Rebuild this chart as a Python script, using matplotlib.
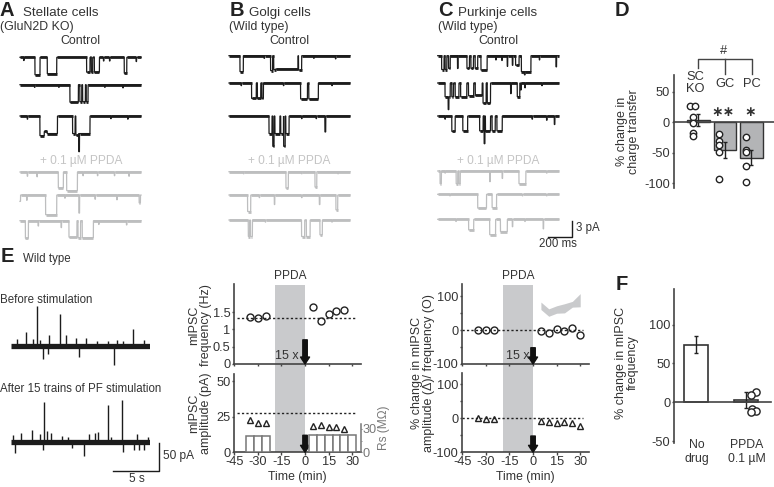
import numpy as np
import matplotlib
matplotlib.use("Agg")
import matplotlib.pyplot as plt

plt.rcParams['font.family'] = ['Liberation Sans', 'DejaVu Sans']
plt.rcParams['axes.unicode_minus'] = False
W, H = 774, 487
DARK = '#1c1c1c'; GRAY = '#bdbebf'; TXT = '#333333'; AX = '#444444'; BAND = '#c9cacc'; BAR = '#b3b4b6'

# ---- single channel traces: (start ms, end ms, depth pA)
A_ctrl = [
 [(124,165,3.3),(226,303,3.1),(551,578,2.8),(590,600,2.8),(615,656,2.8),(862,882,3.0),(30,34,.6),(690,693,.7),(740,743,.7),(960,963,.8)],
 [(413,482,3.3),(495,510,3.2),(518,540,3.2),(548,562,3.2),(120,123,.5),(320,323,.5),(700,703,.5),(850,853,.6)],
 [(165,200,3.7),(200,225,2.9),(225,309,3.3),(435,455,3.3),(462,484,3.6),(484,578,3.3),(486,491,6.7),(60,63,.6),(750,753,.5),(890,893,.6)],
]
A_drug = [
 [(317,358,3.0),(386,474,3.5),(60,63,.8),(140,143,.9),(520,523,.7),(640,643,.7),(780,783,.7),(900,903,.8)],
 [(0,4,1.2),(55,58,1.0),(212,303,3.7),(487,492,3.4),(370,373,.6),(620,623,.8),(800,803,.9),(985,995,1.5)],
 [(45,69,3.3),(150,153,1.0),(340,343,1.3),(405,470,3.1),(480,500,3.2),(515,606,3.2),(650,653,.7),(880,883,.8)],
]
B_ctrl = [
 [(91,118,3.0),(344,360,2.8),(370,385,2.6),(385,570,2.5),(575,600,2.7),(290,293,.5),(700,703,.5),(880,883,.6)],
 [(187,225,2.9),(235,262,2.9),(272,284,2.9),(592,648,3.0),(660,738,3.0),(100,103,.5),(450,453,.5),(850,853,.5)],
 [(331,355,3.3),(362,372,5.7),(380,420,3.3),(428,450,3.3),(452,464,5.7),(470,496,3.3),(793,799,3.0),(600,603,.5),(720,723,.5)],
]
B_drug = [
 [(471,490,3.1),(711,725,2.9),(120,123,.4),(600,603,.4),(900,903,.4)],
 [(154,179,3.1),(375,378,1.8),(747,751,1.8),(884,898,2.8),(250,253,.5),(600,603,.5)],
 [(160,170,3.1),(178,193,3.1),(600,625,3.1),(640,670,3.1),(752,771,2.8),(300,303,.4),(850,853,.4)],
]
C_ctrl = [
 [(33,52,2.6),(62,75,2.6),(90,103,2.4),(164,168,2.4),(242,262,2.4),(275,295,2.4),(310,330,2.4),(358,408,2.7),(575,578,2.0),(617,621,1.8),(644,672,1.8),(692,770,3.0),(717,722,3.6),(978,982,2.1),(480,483,.8),(530,533,.9),(840,843,.8)],
 [(61,103,2.6),(87,92,5.0),(117,130,2.6),(145,175,2.6),(190,240,2.6),(255,297,2.4),(311,367,2.3),(375,400,3.8),(410,436,3.8),(603,607,2.0),(658,678,2.6),(686,690,1.3),(720,724,.9),(860,864,.5)],
 [(117,144,2.9),(208,247,2.8),(347,375,2.8),(384,390,5.2),(395,436,2.8),(450,475,2.8),(490,533,2.8),(60,63,.6),(780,783,.6),(964,968,1.6),(900,903,.8)],
]
C_drug = [
 [(20,30,2.4),(153,165,2.4),(175,186,2.4),(430,434,2.0),(533,536,1.4),(672,728,2.4),(60,63,.4),(900,903,.4)],
 [(331,403,2.6),(450,486,2.5),(100,103,.3),(700,703,.3),(900,903,.3)],
 [(256,297,2.0),(430,478,2.9),(519,575,2.3),(617,620,1.4),(872,875,1.8),(150,153,.4),(720,723,.4)],
]
A_base = [[57.3,84.7,116.0],[172.0,195.0,220.7]]
B_base = [[55.7,83.0,116.0],[171.7,195.0,220.0]]
C_base = [[55.7,83.0,116.0],[171.0,194.3,219.3]]

# ---- panel E raw traces: (s, pA)
E_before = [(2.8,74),(5.3,58),(13.2,31),(1.6,26),(4.1,20),(6.0,20),(7.1,14),(8.2,14),(0.7,13),(2.4,12),(3.1,11),(9.3,10),(11.5,11),(14.4,11),(10.5,9),(12.2,9),(3.5,-24),(4.0,-15),(7.4,-21),(11.2,-34)]
E_after = [(3.6,73),(10.5,67),(12.1,77),(1.05,16),(2.3,21),(0.25,12),(3.15,14),(3.9,19),(4.35,15),(8.5,14),(9.1,16),(9.4,17),(13.7,14),(5.5,10),(6.2,9),(14.9,9),(10.9,9),(0.45,-21),(3.5,-16),(7.95,-27),(12.15,-18),(13.4,-16),(13.95,-15),(14.4,-15),(6.6,-12)]

# ---- panel D
D_labels = ['SC\nKO','GC','PC']
D_means = [3.8,-46,-58]
D_err = [9.5,13.5,13]
D_pts_x = [[-.31,-.13,-.19,-.19,-.19,-.19],[-.21,-.21,-.21,-.21,-.21],[-.2,-.2,-.2,-.2,-.2]]
D_pts_y = [[26,27,9,-2,-17,-23],[-19,-31,-37,-49,-94],[-24,-45,-49,-72,-98]]

# ---- panel E/C time courses
t_pre = [-35,-30,-25]
t_post5 = [5,10,15,20,25]
t_post6 = [5,10,15,20,25,30]
freq_pre = [1.35,1.32,1.38]; freq_post = [1.65,1.25,1.46,1.53,1.56]
amp_pre = [22.8,21,20.4]; amp_post = [18.8,19.5,18,18,16.4]
freq_base = 1.34; amp_base = 27.7
rs_t = [-35,-30,-25,5,10,15,20,25,30]
rs_v = [21,20.5,21,22,22,22,22,22,22]
cf_pre = [0,1,0]; cf_post = [-2,-7,2,-2,6,-14]
ca_pre = [0,-1,-1]; ca_post = [-8,-12,-15,-12,-14,-22]
shade_up = [83,63,72,78,85,108]; shade_lo = [61,41,50,51,68,69]

# ---- panel F
F_labels = ['No\ndrug','PPDA\n0.1 µM']
F_means = [74,3]
F_err = [11,10]
F_pts_x = [1.2,1.11,1.12,1.2,1.11]
F_pts_y = [13,10,-8,-11,-13]

fig = plt.figure(figsize=(W/100, H/100), dpi=100)

def pax(x0, y0, x1, y1, **k):
    a = fig.add_axes([x0/W, 1-y1/H, (x1-x0)/W, (y1-y0)/H], **k)
    a.patch.set_alpha(0)
    return a

ov = pax(0,0,W,H); ov.set_xlim(0,W); ov.set_ylim(H,0); ov.axis('off'); ov.set_zorder(10)
def T(x,y,s,size=8.3,ha='center',va='center',color=TXT,ls=1.05,**k):
    ov.text(x,y,s,fontsize=size,ha=ha,va=va,color=color,linespacing=ls,**k)

def trace(x0, base, events, color):
    PX = 5.33
    a = pax(x0, base-8, x0+121, base+42)
    a.set_xlim(0,1000); a.set_ylim(-42/PX, 8/PX); a.axis('off')
    t = np.arange(0,1001)
    y = np.zeros_like(t, dtype=float)
    for s,e,d in events:
        m = (t>=s)&(t<=e)
        y[m] = np.minimum(y[m], -d)
    a.plot(t,y,color=color,lw=0.9,solid_joinstyle='miter',clip_on=False)
    edges = np.r_[0,np.flatnonzero(np.diff(y))+1,len(t)]
    for i0,i1 in zip(edges[:-1],edges[1:]):
        if i1-i0 > 7:
            a.plot([t[i0],t[i1-1]],[y[i0],y[i0]],color=color,lw=2.0,solid_capstyle='butt',clip_on=False)

for x0,(ctrl,drug),bases in [(20,(A_ctrl,A_drug),A_base),(229,(B_ctrl,B_drug),B_base),(437.7,(C_ctrl,C_drug),C_base)]:
    for ev,b in zip(ctrl,bases[0]): trace(x0,b,ev,DARK)
    for ev,b in zip(drug,bases[1]): trace(x0,b,ev,GRAY)

for x,l in [(7,'A'),(237,'B'),(445,'C'),(622,'D')]:
    T(x,11,l,size=14.5,weight='bold',color='#222222')
T(7,257,'E',size=14.5,weight='bold',color='#222222')
T(622,284,'F',size=14.5,weight='bold',color='#222222')
T(23,13,'Stellate cells',ha='left',size=9.6); T(0,27,'(GluN2D KO)',ha='left',size=8.9)
T(249,13,'Golgi cells',ha='left',size=9.6); T(229,27,'(Wild type)',ha='left',size=8.9)
T(458,13,'Purkinje cells',ha='left',size=9.6); T(438,27,'(Wild type)',ha='left',size=8.9)
for x in (80.7,289.5,498):
    T(x,41,'Control',size=8.9)
    T(x,161,'+ 0.1 µM PPDA',color='#c4c4c4',size=8.6)
T(23,259,'Wild type',ha='left')
T(0,300,'Before stimulation',ha='left')
T(0,389.5,'After 15 trains of PF stimulation',ha='left')

# scale bars
ov.plot([547.7,571.7,571.7],[237,237,221],color=DARK,lw=1)
T(576,228,'3 pA',ha='left'); T(558,244,'200 ms')
ov.plot([113,159,159],[471,471,443],color=DARK,lw=1)
T(163,456,'50 pA',ha='left',size=8.6); T(137,479.5,'5 s',size=8.6)

# E raw traces
def raw(base, spikes):
    a = pax(11, base-50, 150, base+30)
    a.set_xlim(0,15.1); a.set_ylim(-30/0.547, 50/0.547); a.axis('off')
    a.plot([0,15.1],[0,0],color=DARK,lw=3.8,solid_capstyle='butt')
    s,v = zip(*spikes)
    a.vlines(s,0,v,color=DARK,lw=1.0,clip_on=False)
raw(346,E_before); raw(441.7,E_after)

def style(a):
    for s in ('top','right'): a.spines[s].set_visible(False)
    for s in a.spines.values(): s.set_color(AX); s.set_linewidth(1.2)
    a.tick_params(colors=AX,labelcolor=TXT,labelsize=9.2,length=1.8,width=1,pad=1)

def arrow(a, y0, ytop):
    a.annotate('',xy=(0,y0),xytext=(0,ytop),
               arrowprops=dict(width=3.2,headwidth=6.5,headlength=5,shrink=0,color='#111111'),annotation_clip=False,zorder=6)

xt = [-45,-30,-15,0,15,30]
XMAX = 35.4
def timecourse(x0, ytop1, ybot1, ytop2, ybot2, ylim1, ylim2):
    a1 = pax(x0,ytop1,x0+126.4,ybot1); a2 = pax(x0,ytop2,x0+126.4,ybot2)
    a1.set_xlim(-45,XMAX); a2.set_xlim(-45,XMAX)
    a1.set_ylim(*ylim1); a2.set_ylim(*ylim2)
    style(a1); style(a2)
    a1.set_xticks(xt); a1.set_xticklabels([]); a1.tick_params(axis='x',length=1.5,direction='out')
    a2.set_xticks(xt)
    a1.axvspan(-19,0,ymin=-(ybot2-ybot1)/(ybot1-ytop1),ymax=0.99,color=BAND,clip_on=False,zorder=0,lw=0)
    return a1,a2

mk = dict(ls='none',mfc='none',mec='#222222',mew=1.0,clip_on=False)

# panel E time courses
a1,a2 = timecourse(234.3,284.3,364,374,452.3,(0,2.31),(0,55.2))
a1.set_yticks([0,.5,1,1.5]); a1.set_yticklabels(['0','0.5','1','1.5'])
a2.set_yticks([0,25,50])
a1.plot([-43,32],[freq_base,freq_base],color='#222222',lw=1,ls=(0,(1.6,1.6)))
a1.plot(t_pre+t_post5,freq_pre+freq_post,marker='o',ms=5,**mk)
a2.plot([-43,32],[amp_base,amp_base],color='#222222',lw=1,ls=(0,(1.6,1.6)))
a2.plot(t_pre+t_post5,amp_pre+amp_post,marker='^',ms=4.5,**mk)
arrow(a1,0,0.7); arrow(a2,0,12)
rs = pax(234.3,424,360.7,452.3)
rs.set_xlim(-45,XMAX); rs.set_ylim(0,36.4)
for s in ('top','left','bottom'): rs.spines[s].set_visible(False)
rs.spines['right'].set_color('#777777'); rs.spines['right'].set_linewidth(1.1)
rs.yaxis.tick_right(); rs.set_yticks([0,30]); rs.set_yticks([15],minor=True); rs.set_xticks([])
rs.tick_params(axis='y',which='both',colors='#777777',labelcolor='#777777',labelsize=9.2,length=1,pad=0.5)
rs.bar(rs_t,rs_v,width=5,facecolor='white',edgecolor='#777777',lw=1.1,zorder=1)
T(383.5,428,'Rs (MΩ)',rotation=90,color='#777777',size=8.6)
T(290,276,'PPDA',size=8.6); T(286.7,356,'15 x',size=9)
T(297,477,'Time (min)',size=8.8)
T(200,325,'mIPSC\nfrequency (Hz)',rotation=90,size=9)
T(200,413,'mIPSC\namplitude (pA)',rotation=90,size=9)

# panel C time courses
c1,c2 = timecourse(462.3,284.3,364,373.3,452.3,(-100,135.5),(-100,133))
c1.set_yticks([-100,0,100]); c2.set_yticks([-100,0,100])
c1.set_yticks([-50,50],minor=True); c2.set_yticks([-50,50],minor=True)
c1.tick_params(which='minor',length=1.5,width=1,color=AX); c2.tick_params(which='minor',length=1.5,width=1,color=AX)
c1.fill_between(t_post6,shade_lo,shade_up,color=BAND,lw=0)
c1.plot([-45,32],[0,0],color='#222222',lw=1,ls=(0,(1.6,1.6)))
c1.plot(t_pre+t_post6,cf_pre+cf_post,marker='o',ms=5,**mk)
c2.plot([-45,32],[0,0],color='#222222',lw=1,ls=(0,(1.6,1.6)))
c2.plot(t_pre+t_post6,ca_pre+ca_post,marker='^',ms=4.5,**mk)
arrow(c1,-100,-52); arrow(c2,-100,-52)
T(518,276,'PPDA',size=8.6)
T(518,356,'15 x',size=9)
T(525,477,'Time (min)',size=8.8)
T(423,373,'% change in mIPSC\namplitude (Δ)/ frequency (O)',rotation=90,size=9)

# panel D
d = pax(674,75,774,187.7)
d.set_xlim(-0.917,2.857); d.set_ylim(-107.5,77.5)
style(d); d.spines['bottom'].set_position(('data',0)); d.set_xticks([])
d.set_yticks([-100,-50,0,50])
d.bar(range(3),D_means,width=0.85,facecolor=BAR,edgecolor='#333333',lw=1,zorder=1)
d.errorbar(range(3),D_means,yerr=D_err,fmt='none',ecolor='#222222',elinewidth=1,capsize=1.5,zorder=2,clip_on=False)
for i,(xs,ys) in enumerate(zip(D_pts_x,D_pts_y)):
    d.plot([i+v for v in xs],ys,marker='o',ms=4.6,ls='none',mfc='white',mec='#222222',mew=1.0,zorder=3,clip_on=False)
T(695,83,D_labels[0],size=9.3,ls=1.1); T(725,84,D_labels[1],size=9.3); T(751.5,84,D_labels[2],size=9.3)
T(723,112,'∗∗',size=10,family='DejaVu Sans',weight='bold'); T(750,112,'∗',size=10,family='DejaVu Sans',weight='bold')
T(723.5,51,'#',size=9.3)
ov.plot([698.3,698.3,751.7,751.7],[68,59,59,73.5],color=AX,lw=1)
ov.plot([725,725],[59,73.5],color=AX,lw=1)
T(628,131.7,'% change in\ncharge transfer',rotation=90,size=9)

# panel F
f = pax(674.3,289.3,771,442.7)
f.set_xlim(-0.437,1.51); f.set_ylim(-52,145.5)
style(f); f.spines['bottom'].set_position(('data',0)); f.set_xticks([])
f.set_yticks([-50,0,50,100])
f.bar([0,1],F_means,width=0.49,facecolor='white',edgecolor='#333333',lw=1.2,zorder=1)
f.errorbar([0,1],F_means,yerr=F_err,fmt='none',ecolor='#222222',elinewidth=1,capsize=1.5,zorder=2)
f.plot(F_pts_x,F_pts_y,marker='o',ms=5.2,ls='none',mfc='white',mec='#222222',mew=1.0,zorder=3,clip_on=False)
T(696.7,452,F_labels[0],size=8.8,ls=1.2); T(746.7,452,F_labels[1],size=8.8,ls=1.2)
T(627,363,'% change in mIPSC\nfrequency',rotation=90,size=9)

fig.savefig('out.png',dpi=100)
